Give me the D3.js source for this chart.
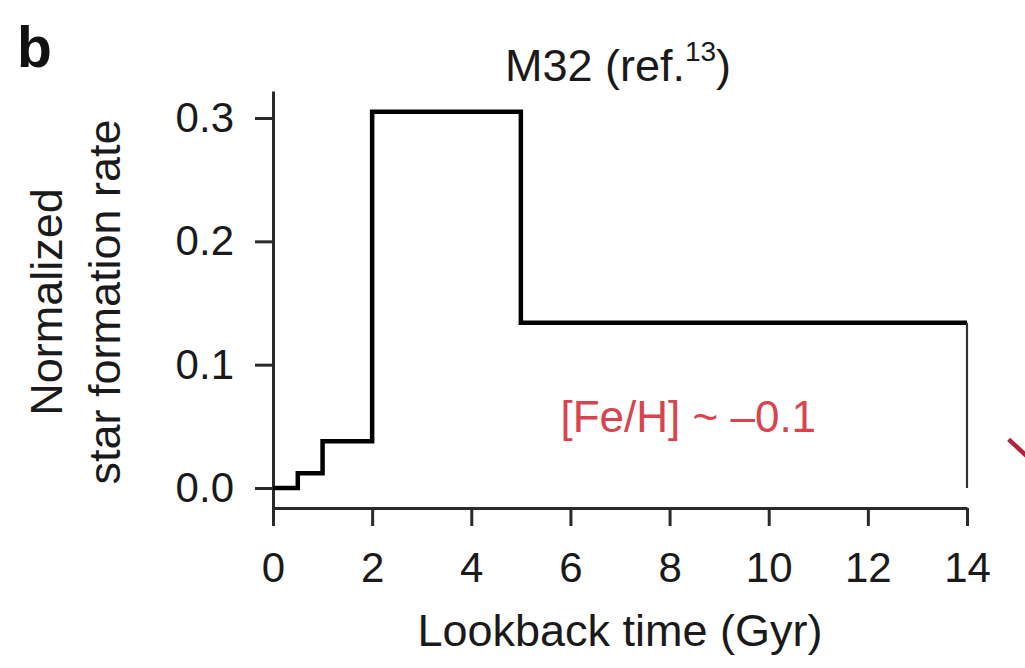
<!DOCTYPE html>
<html>
<head>
<meta charset="utf-8">
<script src="https://cdn.jsdelivr.net/npm/d3@7"></script>
<style>
  html, body { margin: 0; padding: 0; background: #fff; }
  svg { display: block; }
  text { font-family: "Liberation Sans", Arial, Helvetica, sans-serif; }
</style>
</head>
<body>
<script>
// ---- data ----
const stepTimes = [0, 0.5, 1, 2, 5, 14];          // Gyr (bin edges)
const stepRates = [0.0, 0.012, 0.038, 0.305, 0.134, 0.134]; // normalized SFR
const xTicks = [0, 2, 4, 6, 8, 10, 12, 14];
const yTicks = [0.0, 0.1, 0.2, 0.3];
const panelLabel = "b";
const titleMain = "M32 (ref.";
const titleSup = "13";
const xTitle = "Lookback time (Gyr)";
const yTitleLines = ["Normalized", "star formation rate"];
const annotation = "[Fe/H] ~ \u20130.1";
const annotationPos = [5.8, 0.045];
const neighbourStroke = [[14.84, 0.0395], [15.2, 0.026]]; // fragment of the next panel

// ---- layout ----
const W = 1025, H = 668;
const svg = d3.select("body").append("svg").attr("width", W).attr("height", H);

const x = d3.scaleLinear().domain([0, 14]).range([273, 967]);
const y = d3.scaleLinear().domain([-0.01622, 0.3219]).range([508, 91]);

// axes
const xAxis = d3.axisBottom(x).tickValues(xTicks).tickFormat(d3.format("d"))
  .tickSize(18).tickSizeOuter(0).tickPadding(26);
const yAxis = d3.axisLeft(y).tickValues(yTicks).tickFormat(d3.format(".1f"))
  .tickSize(18).tickSizeOuter(0).tickPadding(21);

const gx = svg.append("g").attr("transform", `translate(0,${y.range()[0]})`).call(xAxis);
const gy = svg.append("g").attr("transform", `translate(${x.range()[0]},0)`).call(yAxis);

[gx, gy].forEach(g => {
  g.select(".domain").attr("stroke", "#2a2a2a").attr("stroke-width", 3);
  g.selectAll(".tick line").attr("stroke", "#2a2a2a").attr("stroke-width", 3);
  g.selectAll(".tick text").attr("fill", "#1a1a1a").attr("font-size", 42)
    .style("font-family", '"Liberation Sans", Arial, sans-serif');
});

// step line
const pts = stepTimes.map((t, i) => [t, stepRates[i]]);
const line = d3.line().x(d => x(d[0])).y(d => y(d[1])).curve(d3.curveStepAfter);
svg.append("path").datum(pts).attr("d", line)
  .attr("fill", "none").attr("stroke", "#000").attr("stroke-width", 4.5)
  .attr("stroke-linejoin", "miter");

// closing drop at 14 Gyr
const last = pts[pts.length - 1];
svg.append("line")
  .attr("x1", x(last[0])).attr("x2", x(last[0]))
  .attr("y1", y(last[1])).attr("y2", y(0))
  .attr("stroke", "#333").attr("stroke-width", 2.2);

// annotation
svg.append("text").attr("x", x(annotationPos[0])).attr("y", y(annotationPos[1]))
  .attr("font-size", 44).attr("fill", "#d8434e").text(annotation);

// neighbour fragment
svg.append("path").datum(neighbourStroke)
  .attr("d", d3.line().x(d => x(d[0])).y(d => y(d[1])))
  .attr("stroke", "#b3213d").attr("stroke-width", 4.5).attr("fill", "none");

// title
const title = svg.append("text").attr("x", 618).attr("y", 81)
  .attr("text-anchor", "middle").attr("font-size", 45).attr("fill", "#1a1a1a");
title.append("tspan").text(titleMain);
title.append("tspan").attr("font-size", 28).attr("dy", -20).text(titleSup);
title.append("tspan").attr("dy", 20).text(")");

// panel label
svg.append("text").attr("x", 17).attr("y", 67).attr("font-size", 57)
  .attr("font-weight", "bold").attr("fill", "#111").text(panelLabel);

// axis titles
svg.append("text").attr("x", (x.range()[0] + x.range()[1]) / 2).attr("y", 646)
  .attr("text-anchor", "middle").attr("font-size", 45).attr("fill", "#1a1a1a").text(xTitle);

const yCenter = 302;
[62, 120].forEach((bx, i) => {
  svg.append("text")
    .attr("transform", `translate(${bx},${yCenter}) rotate(-90)`)
    .attr("text-anchor", "middle").attr("font-size", 45).attr("fill", "#1a1a1a")
    .text(yTitleLines[i]);
});
</script>
</body>
</html>
